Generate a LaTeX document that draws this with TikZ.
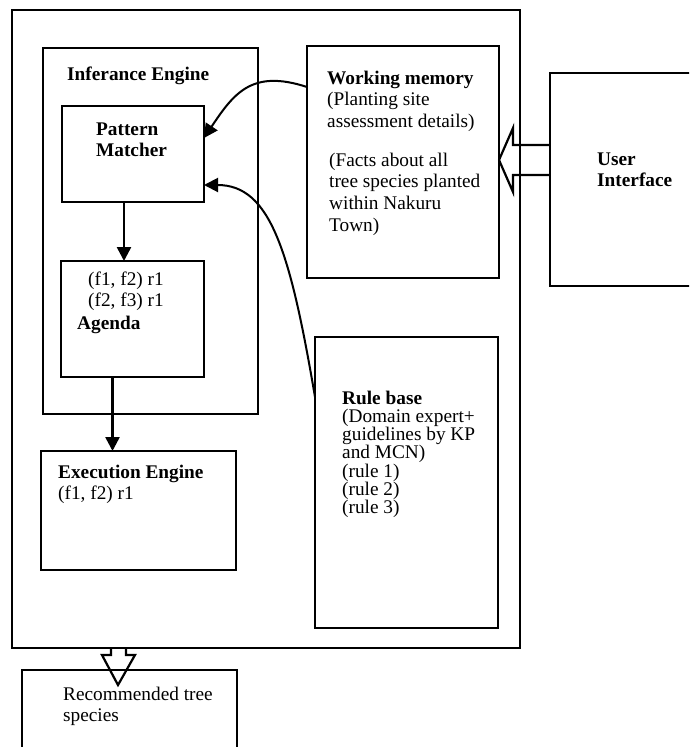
\documentclass[tikz,border=0pt]{standalone}
\usepackage{fontspec}
\setmainfont{Liberation Serif}
\usetikzlibrary{arrows.meta}

\tikzset{
  box/.style={draw, line width=2.8pt, outer sep=0pt, inner sep=0pt, anchor=north west},
  txt/.style={anchor=base west, align=left, inner sep=0pt, font=\fontsize{19.3}{21.7}\selectfont},
  head/.style={txt, font=\fontsize{19.3}{21.7}\selectfont\bfseries},
  flow/.style={->, line width=2.5pt},
  link/.style={->, line width=2pt},
  hollow/.style={line width=2.2pt, line join=miter},
}

\begin{document}
\begin{tikzpicture}[x=1pt,y=-1pt,>={Triangle[length=14pt,width=14pt]}]
\clip (0,0) rectangle (689,747);
% boxes
\node[box, minimum width=508, minimum height=638] (sys) at (12,10) {};
\node[box, minimum width=215, minimum height=366] (inf) at (43,48) {};
\node[box, minimum width=142, minimum height=96] (pm) at (62,106) {};
\node[box, minimum width=143, minimum height=116] (ag) at (61,261) {};
\node[box, minimum width=195, minimum height=119] (ex) at (41,451) {};
\node[box, minimum width=192, minimum height=232] (wm) at (307,46) {};
\node[box, minimum width=183, minimum height=291] (rb) at (315,337) {};
\node[box, minimum width=170, minimum height=213] (ui) at (550,73) {};
\node[box, minimum width=215, minimum height=90] (rec) at (22,670) {};
% texts (base = baseline of the last line)
\node[head] (inftitle) at ([shift={(24,32)}]inf.north west) {Inferance Engine};
\node[head] (pmtitle) at ([shift={(34,50.7)}]pm.north west) {Pattern\\Matcher};
\node[txt] (agfacts) at ([shift={(27,45.7)}]ag.north west) {(f1, f2) r1\\(f2, f3) r1};
\node[head] (agtitle) at ([shift={(16,68)}]ag.north west) {Agenda};
\node[txt] (extext) at ([shift={(17,48.7)}]ex.north west) {\textbf{Execution Engine}\\(f1, f2) r1};
\node[txt] (wmtext) at ([shift={(20,81.4)}]wm.north west) {\textbf{Working memory}\\(Planting site\\assessment details)};
\node[txt] (wmfacts) at ([shift={(22,185.1)}]wm.north west) {(Facts about all\\tree species planted\\within Nakuru\\Town)};
\node[txt, font=\fontsize{19.3}{18.3}\selectfont] (rbtext) at ([shift={(27,176.8)}]rb.north west) {\textbf{Rule base}\\(Domain expert+\\guidelines by KP\\and MCN)\\(rule 1)\\(rule 2)\\(rule 3)};
\node[head] (uititle) at ([shift={(47,113.7)}]ui.north west) {User\\Interface};
\node[txt] (rectext) at ([shift={(41,51.7)}]rec.north west) {Recommended tree\\species};
% connectors
\draw[flow] ([xshift=-9]pm.south) -- ([xshift=-9]pm.south |- ag.north);
\draw[flow] ([xshift=-20]ag.south) -- ([xshift=-20]ag.south |- ex.north);
\draw[link] ([yshift=-41]wm.north west) .. controls +(-55,-18) and +(30,-45) .. ([yshift=-32]pm.north east);
\draw[link] ([yshift=-60]rb.north west) .. controls +(-25,-147) and +(66,0) .. ([yshift=17]pm.south east);
% block arrows
\draw[hollow] ([yshift=2]wm.east) -- ++(14,-32) -- ++(0,17) coordinate (uia) -- (uia -| ui.west);
\draw[hollow] ([yshift=2]wm.east) -- ++(14,32) -- ++(0,-17) coordinate (uib) -- (uib -| ui.west);
\coordinate (outa) at ([xshift=99]sys.south west);
\draw[hollow] (outa) -- ++(0,7) -- ++(-9,0) -- ++(16,30) -- ++(17,-30) -- ++(-9,0) -- ++(0,-7);
\end{tikzpicture}
\end{document}
